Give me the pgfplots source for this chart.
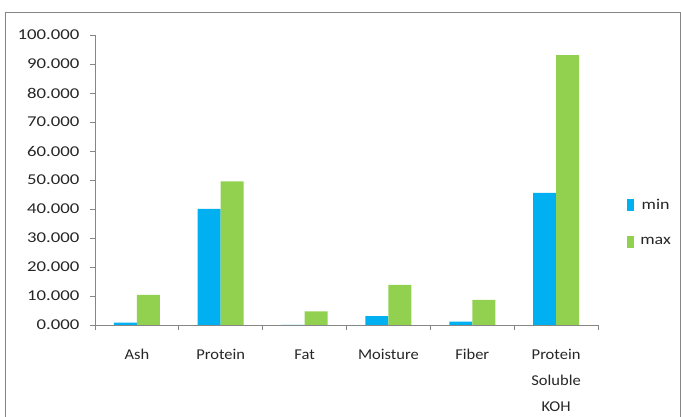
\documentclass[border=0pt]{standalone}
\usepackage{fontspec}
\setmainfont{Carlito}
\newfontfamily\wideA[FakeStretch=1.25]{Carlito}
\newfontfamily\wideB[FakeStretch=1.1]{Carlito}
\newfontfamily\wideC[FakeStretch=1.2]{Carlito}
\usepackage{pgfplots}
\pgfplotsset{compat=1.18}
\definecolor{cmin}{HTML}{00B0F0}
\definecolor{cmax}{HTML}{92D050}
\definecolor{axgray}{HTML}{868686}
\begin{document}
\begin{tikzpicture}[x=1pt,y=1pt]
\useasboundingbox (-95,-92) rectangle (586,325);
\draw[axgray, line width=0.8pt] (-90,-100) -- (-90,313) -- (585,313) -- (585,-100);
\begin{axis}[
  at={(0,0)}, anchor=south west,
  scale only axis, width=503pt, height=290pt,
  xmin=-0.5, xmax=5.5, ymin=0, ymax=100,
  ybar=0pt, bar width=23pt,
  axis lines*=left,
  axis line style={axgray, line width=0.8pt},
  every tick/.style={axgray, line width=0.8pt},
  tick align=outside, major tick length=5pt,
  ytick distance=10,
  yticklabel style={font=\wideA\fontsize{15}{18}\selectfont, text=black!85, xshift=-7pt,
    /pgf/number format/fixed, /pgf/number format/fixed zerofill,
    /pgf/number format/precision=3, /pgf/number format/assume math mode=true},
  xticklabel style={font=\wideB\fontsize{15}{26}\selectfont, text=black!85},
  xtick={-0.5,0.5,...,5.5}, xticklabels={},
  extra x ticks={0,1,2,3,4,5},
  extra x tick labels={Ash,Protein,Fat,Moisture,Fiber,{Protein\\Soluble\\KOH}},
  extra x tick style={major tick length=0pt, xticklabel style={align=center, yshift=-21pt}},
  legend image code/.code={\path[#1] (0pt,-6pt) rectangle (6.5pt,6pt); \path (11pt,0pt);},
  legend style={at={(1.052,0.353)}, anchor=west, draw=none, fill=none,
    font=\wideC\fontsize{15}{17}\selectfont, text=black!85, row sep=22pt},
]
\addplot[fill=cmin, draw=none] coordinates {(0,0.8) (1,40.0) (2,0.0) (3,3.1) (4,1.2) (5,45.6)};
\addplot[fill=cmax, draw=none] coordinates {(0,10.4) (1,49.5) (2,4.7) (3,13.8) (4,8.7) (5,93.1)};
\legend{min,max}
\end{axis}
\end{tikzpicture}
\end{document}
